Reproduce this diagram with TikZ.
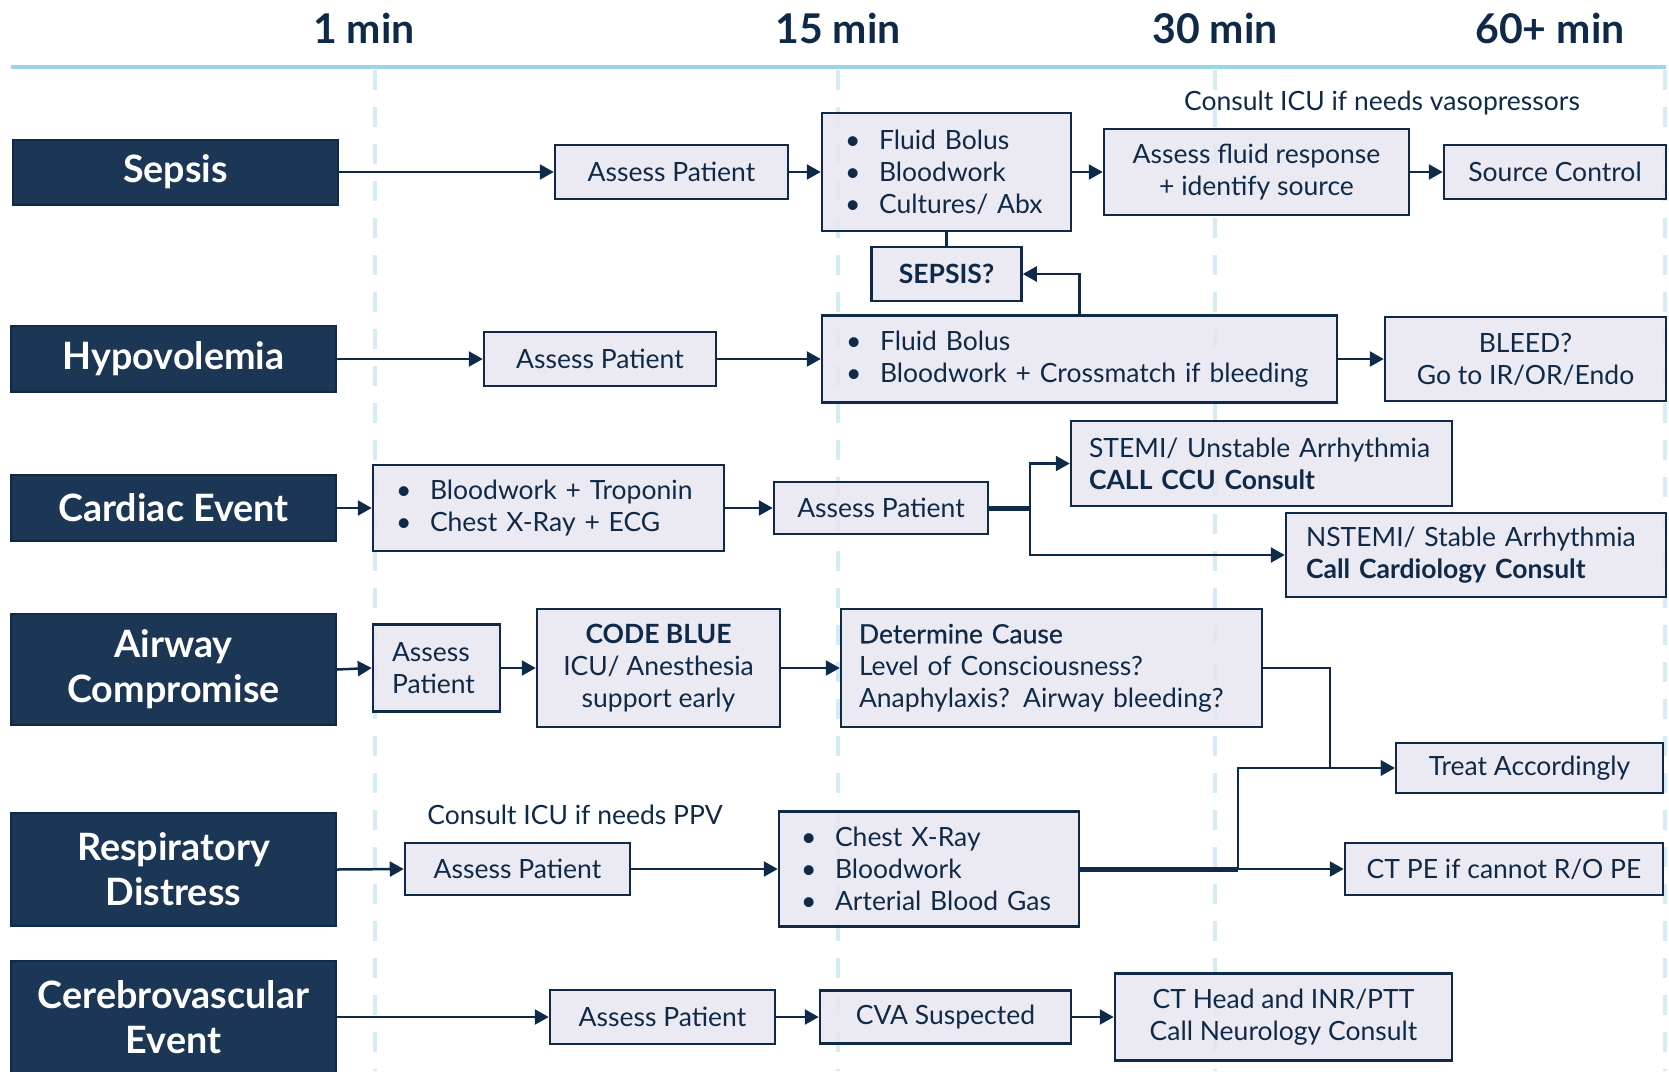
\documentclass[tikz,border=0pt]{standalone}
\usepackage{fontspec}
\setmainfont{Lato}
\newfontfamily\medfont{Lato}[FakeBold=0.5]
\usetikzlibrary{arrows.meta}

\definecolor{navy}{HTML}{0F2A48}
\definecolor{catblue}{HTML}{1C3656}
\definecolor{lav}{HTML}{E8E6F1}
\definecolor{rule}{HTML}{9AD4EA}
\definecolor{tick}{HTML}{D3ECF6}

\newcommand{\cellfont}{\fontsize{26.5}{32}\selectfont}
\newcommand{\bul}{\makebox[34pt][l]{\textbullet}}

\tikzset{
  cat/.style={draw=navy, fill=catblue, line width=2pt, text=white, align=center,
    font=\fontsize{37.7}{45}\selectfont\bfseries, inner sep=0pt, minimum width=325pt},
  cell/.style={draw=navy, fill=lav, fill opacity=0.85, text opacity=1, line width=2.5pt,
    text=navy, font=\cellfont, align=center, inner sep=0pt},
  note/.style={anchor=base, text=navy, font=\cellfont},
  arr/.style={navy, line width=2.5pt, -{Triangle[length=14pt,width=15pt]}},
  link/.style={navy, line width=2.5pt},
}

\begin{document}
\begin{tikzpicture}[x=1pt,y=-1pt]
\useasboundingbox (0,0) rectangle (1669,1071);

% time axis
\foreach \x in {375,838,1215,1665}
  \draw[tick, line width=4.5pt, dash pattern=on 20pt off 17pt] (\x,70) -- (\x,1071);
\draw[rule, line width=4.5pt] (11,67) -- (1666,67);
\foreach \x/\t in {364/1 min, 838/15 min, 1215/30 min, 1550/60+ min}
  \node[anchor=base, text=navy, font=\fontsize{41}{48}\selectfont\bfseries] (head\x) at (\x,43) {\t};

% sepsis
\node[cat, minimum height=65pt] (sepsis) at (175.5,172) {Sepsis};
\node[cell, minimum width=233pt, minimum height=54pt] (sAssess) at (671.5,172) {Assess Patient};
\node[cell, align=left, inner xsep=23pt, text width=203pt, minimum height=118pt] (sBundle) at (946.5,172)
  {\bul Fluid Bolus\\ \bul Bloodwork\\ \bul Cultures/ Abx};
\node[cell, minimum width=305pt, minimum height=86pt] (sFluid) at (1256.5,172) {Assess fluid response\\+ identify source};
\node[cell, minimum width=222pt, minimum height=54pt] (sSource) at (1555,172) {Source Control};
\node[note] (sVaso) at (1382,110) {Consult ICU if needs vasopressors};
\node[cell, font=\cellfont\bfseries, minimum width=150pt, minimum height=54pt] (sQuery) at (946.5,274) {SEPSIS?};

\draw[arr] (sepsis.east) -- (sAssess.west);
\draw[arr] (sAssess.east) -- (sBundle.west);
\draw[arr] (sBundle.east) -- (sFluid.west);
\draw[arr] (sFluid.east) -- (sSource.west);
\draw[link] (sBundle.south) -- (sQuery.north);

% hypovolemia
\node[cat, minimum height=66pt] (hypo) at (173.5,359) {Hypovolemia};
\node[cell, minimum width=232pt, minimum height=54pt] (hAssess) at (600,359) {Assess Patient};
\node[cell, align=left, inner xsep=24pt, text width=467pt, minimum height=87pt] (hBundle) at (1079.5,359)
  {\bul Fluid Bolus\\ \bul Bloodwork + Crossmatch if bleeding};
\node[cell, minimum width=281pt, minimum height=84pt] (hBleed) at (1525.5,359) {BLEED?\\Go to IR/OR/Endo};

\draw[arr] (hypo.east) -- (hAssess.west);
\draw[arr] (hAssess.east) -- (hBundle.west);
\draw[arr] (hBundle.east) -- (hBleed.west);
\draw[arr] (hBundle.north) |- (sQuery.east);

% cardiac
\node[cat, minimum height=66pt] (cardiac) at (173.5,508) {Cardiac Event};
\node[cell, align=left, inner xsep=23pt, text width=305pt, minimum height=86pt] (cTests) at (548.5,508)
  {\bul Bloodwork + Troponin\\ \bul Chest X-Ray + ECG};
\node[cell, minimum width=214pt, minimum height=52pt] (cAssess) at (881,508) {Assess Patient};
\node[cell, align=left, inner xsep=18pt, text width=345pt, minimum height=85pt] (cStemi) at (1261.5,463.5)
  {STEMI/ Unstable Arrhythmia\\\textbf{CALL CCU Consult}};
\node[cell, align=left, inner xsep=20pt, text width=340pt, minimum height=84pt] (cNstemi) at (1476,555)
  {NSTEMI/ Stable Arrhythmia\\\textbf{Call Cardiology Consult}};
\coordinate (cBr) at (1030,508);

\draw[arr] (cardiac.east) -- (cTests.west);
\draw[arr] (cTests.east) -- (cAssess.west);
\draw[link, line width=5pt] (cAssess.east) -- (cBr);
\draw[arr] (cBr) |- (cStemi.west);
\draw[arr] (cBr) |- (cNstemi.west);

% airway
\node[cat, minimum height=111pt] (airway) at (173.5,669.5) {Airway\\Compromise};
\node[cell, align=left, inner xsep=19pt, text width=89pt, minimum height=87pt] (aAssess) at (436.5,668)
  {Assess\\Patient};
\node[cell, minimum width=243pt, minimum height=118pt] (aCode) at (658.5,668)
  {\textbf{CODE BLUE}\\ICU/ Anesthesia\\support early};
\node[cell, align=left, inner xsep=18pt, text width=385pt, minimum height=118pt] (aCause) at (1051.5,668)
  {{\medfont Determine Cause}\\Level of Consciousness?\\Anaphylaxis? Airway bleeding?};
\node[cell, minimum width=267pt, minimum height=50pt] (tAcc) at (1529.5,768) {Treat Accordingly};
\coordinate (aBr) at (1330,668);

\draw[arr] (airway.east) -- (aAssess.west);
\draw[arr] (aAssess.east) -- (aCode.west);
\draw[arr] (aCode.east) -- (aCause.west);
\draw[arr] (aCause.east) -- (aBr) |- (tAcc.west);

% respiratory
\node[cat, minimum height=113pt] (resp) at (173.5,869.5) {Respiratory\\Distress};
\node[note] (rPpv) at (575,824) {Consult ICU if needs PPV};
\node[cell, minimum width=225pt, minimum height=52pt] (rAssess) at (517.5,869) {Assess Patient};
\node[cell, align=left, inner xsep=22pt, text width=256pt, minimum height=115pt] (rTests) at (929,869)
  {\bul Chest X-Ray\\ \bul Bloodwork\\ \bul Arterial Blood Gas};
\node[cell, minimum width=318pt, minimum height=52pt] (rCtpe) at (1504,869) {CT PE if cannot R/O PE};
\coordinate (rBr) at (1238,869);

\draw[arr] (resp.east) -- (rAssess.west);
\draw[arr] (rAssess.east) -- (rTests.west);
\draw[link, line width=5pt] (rTests.east) -- (rBr);
\draw[arr] (rBr) -- (rCtpe.west);
\draw[arr] (rBr) |- (tAcc.west);

% cerebrovascular
\node[cat, minimum height=112pt] (cereb) at (173.5,1017) {Cerebrovascular\\Event};
\node[cell, minimum width=225pt, minimum height=54pt] (eAssess) at (662.5,1017) {Assess Patient};
\node[cell, minimum width=251pt, minimum height=53pt] (eCva) at (945.5,1017) {CVA Suspected};
\node[cell, minimum width=337pt, minimum height=87pt] (eCt) at (1283.5,1017)
  {CT Head and INR/PTT\\Call Neurology Consult};

\draw[arr] (cereb.east) -- (eAssess.west);
\draw[arr] (eAssess.east) -- (eCva.west);
\draw[arr] (eCva.east) -- (eCt.west);

\end{tikzpicture}
\end{document}
